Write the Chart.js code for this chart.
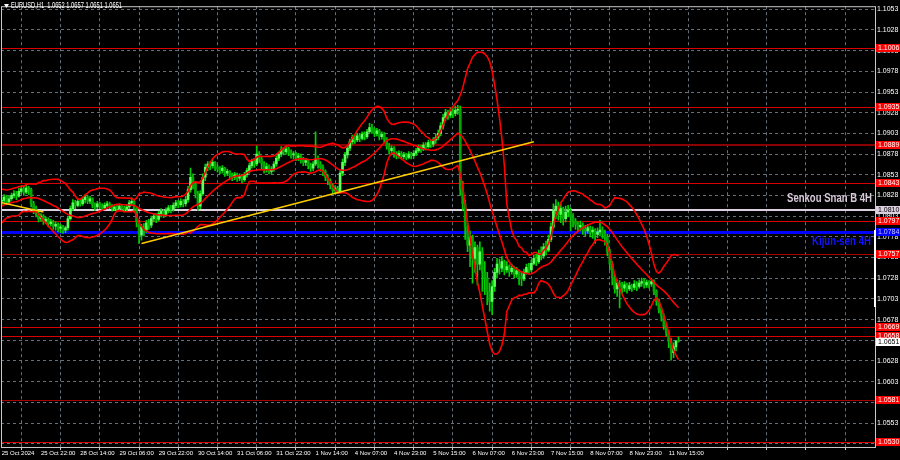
<!DOCTYPE html>
<html>
<head>
<meta charset="utf-8">
<script src="https://cdn.jsdelivr.net/npm/chart.js@4.4.1/dist/chart.umd.min.js"></script>
<style>
    html, body { margin: 0; padding: 0; background: #000; }
    canvas { display: block; }
</style>
</head>
<body>
<canvas id="myChart" width="900" height="460"></canvas>
<script>
const title = 'EURUSD,H1  1.0652 1.0657 1.0651 1.0651';

const timeLabels = [
    '25 Oct 2024', '25 Oct 22:00', '28 Oct 14:00', '29 Oct 06:00', '29 Oct 22:00',
    '30 Oct 14:00', '31 Oct 06:00', '31 Oct 22:00', '1 Nov 14:00', '4 Nov 07:00',
    '4 Nov 23:00', '5 Nov 15:00', '6 Nov 07:00', '6 Nov 23:00', '7 Nov 15:00',
    '8 Nov 07:00', '8 Nov 23:00', '11 Nov 15:00'
];

const priceTicks = [
    1.1053, 1.1028, 1.1003, 1.0978, 1.0953, 1.0928, 1.0903, 1.0878, 1.0853, 1.0828, 1.0803,
    1.0778, 1.0753, 1.0728, 1.0703, 1.0678, 1.0653, 1.0628, 1.0603, 1.0578, 1.0553, 1.0528
];

const redLevels = [1.1006, 1.0935, 1.0889, 1.0843, 1.0797, 1.0757, 1.0669, 1.0658, 1.0581, 1.0530];
const senkouSpanB = 1.0810;
const kijunSen = 1.0784;
const lastPrice = 1.0651;
const senkouText = 'Senkou Snan B 4H';
const kijunText = 'Kijun-sen 4H';

// closes before the first visible bar, only needed to start the bands
const priorCloses = [
    1.0795, 1.0800, 1.0812, 1.0805, 1.0818, 1.0822, 1.0810, 1.0801, 1.0813, 1.0826,
    1.0817, 1.0828, 1.0812, 1.0804, 1.0816, 1.0830, 1.0819, 1.0832, 1.0821
];

const closes = [
    1.0822, 1.0826, 1.0820, 1.0824, 1.0828, 1.0830, 1.0827, 1.0833, 1.0836, 1.0832,
    1.0837, 1.0835, 1.0818, 1.0812, 1.0806, 1.0800, 1.0803, 1.0797, 1.0799, 1.0794,
    1.0796, 1.0791, 1.0793, 1.0788, 1.0790, 1.0786, 1.0789, 1.0800, 1.0812, 1.0819,
    1.0816, 1.0821, 1.0818, 1.0823, 1.0826, 1.0821, 1.0824, 1.0817, 1.0814, 1.0818,
    1.0815, 1.0813, 1.0816, 1.0818, 1.0815, 1.0812, 1.0814, 1.0812, 1.0815, 1.0813,
    1.0811, 1.0814, 1.0819, 1.0821, 1.0812, 1.0796, 1.0780, 1.0790, 1.0786, 1.0795,
    1.0792, 1.0800, 1.0803, 1.0799, 1.0806, 1.0809, 1.0805, 1.0810, 1.0813, 1.0811,
    1.0816, 1.0819, 1.0817, 1.0821, 1.0818, 1.0823, 1.0835, 1.0850, 1.0842, 1.0830,
    1.0815, 1.0830, 1.0850, 1.0862, 1.0866, 1.0864, 1.0868, 1.0862, 1.0860, 1.0858,
    1.0861, 1.0855, 1.0857, 1.0852, 1.0850, 1.0853, 1.0849, 1.0851, 1.0847, 1.0853,
    1.0858, 1.0864, 1.0869, 1.0866, 1.0878, 1.0872, 1.0866, 1.0860, 1.0863, 1.0857,
    1.0860, 1.0866, 1.0873, 1.0878, 1.0883, 1.0881, 1.0884, 1.0880, 1.0877, 1.0878,
    1.0874, 1.0876, 1.0871, 1.0868, 1.0870, 1.0864, 1.0861, 1.0866, 1.0872, 1.0866,
    1.0862, 1.0857, 1.0850, 1.0846, 1.0840, 1.0834, 1.0837, 1.0833, 1.0855, 1.0868,
    1.0877, 1.0885, 1.0893, 1.0898, 1.0895, 1.0900, 1.0897, 1.0902, 1.0899, 1.0905,
    1.0910, 1.0908, 1.0903, 1.0906, 1.0899, 1.0902, 1.0896, 1.0888, 1.0882, 1.0885,
    1.0878, 1.0876, 1.0879, 1.0875, 1.0877, 1.0874, 1.0878, 1.0876, 1.0879, 1.0882,
    1.0886, 1.0884, 1.0889, 1.0887, 1.0892, 1.0890, 1.0895, 1.0898, 1.0903, 1.0912,
    1.0922, 1.0928, 1.0925, 1.0930, 1.0927, 1.0931, 1.0932, 1.0835, 1.0818, 1.0790,
    1.0768, 1.0778, 1.0752, 1.0765, 1.0745, 1.0760, 1.0735, 1.0728, 1.0712, 1.0700,
    1.0718, 1.0735, 1.0745, 1.0740, 1.0748, 1.0738, 1.0742, 1.0736, 1.0740, 1.0733,
    1.0737, 1.0730, 1.0727, 1.0735, 1.0741, 1.0738, 1.0746, 1.0752, 1.0748, 1.0758,
    1.0755, 1.0766, 1.0762, 1.0775, 1.0790, 1.0810, 1.0815, 1.0805, 1.0812, 1.0800,
    1.0808, 1.0810, 1.0802, 1.0797, 1.0793, 1.0790, 1.0792, 1.0787, 1.0785, 1.0789,
    1.0784, 1.0786, 1.0781, 1.0784, 1.0786, 1.0782, 1.0778, 1.0760, 1.0745, 1.0728,
    1.0715, 1.0722, 1.0718, 1.0716, 1.0720, 1.0715, 1.0719, 1.0717, 1.0721, 1.0718,
    1.0722, 1.0724, 1.0720, 1.0723, 1.0721, 1.0724, 1.0712, 1.0700, 1.0690, 1.0682,
    1.0670, 1.0662, 1.0652, 1.0638, 1.0645, 1.0652, 1.0651
];

const highs = [
    1.0826, 1.0829, 1.0828, 1.0827, 1.0831, 1.0834, 1.0833, 1.0837, 1.0840, 1.0839,
    1.0841, 1.0839, 1.0837, 1.0821, 1.0815, 1.0809, 1.0806, 1.0805, 1.0802, 1.0801,
    1.0799, 1.0798, 1.0796, 1.0795, 1.0793, 1.0792, 1.0791, 1.0803, 1.0815, 1.0823,
    1.0822, 1.0824, 1.0823, 1.0826, 1.0829, 1.0828, 1.0827, 1.0825, 1.0819, 1.0821,
    1.0820, 1.0818, 1.0819, 1.0821, 1.0820, 1.0817, 1.0817, 1.0816, 1.0818, 1.0817,
    1.0815, 1.0817, 1.0822, 1.0825, 1.0823, 1.0814, 1.0798, 1.0793, 1.0794, 1.0798,
    1.0799, 1.0803, 1.0806, 1.0806, 1.0809, 1.0812, 1.0811, 1.0813, 1.0816, 1.0816,
    1.0819, 1.0822, 1.0822, 1.0824, 1.0823, 1.0827, 1.0839, 1.0861, 1.0854, 1.0845,
    1.0833, 1.0834, 1.0854, 1.0866, 1.0869, 1.0869, 1.0871, 1.0869, 1.0865, 1.0863,
    1.0864, 1.0862, 1.0860, 1.0858, 1.0855, 1.0856, 1.0855, 1.0854, 1.0853, 1.0856,
    1.0861, 1.0867, 1.0872, 1.0873, 1.0888, 1.0881, 1.0875, 1.0869, 1.0867, 1.0865,
    1.0863, 1.0869, 1.0876, 1.0881, 1.0887, 1.0886, 1.0888, 1.0886, 1.0883, 1.0881,
    1.0880, 1.0879, 1.0878, 1.0874, 1.0873, 1.0872, 1.0867, 1.0869, 1.0905, 1.0876,
    1.0869, 1.0865, 1.0859, 1.0853, 1.0848, 1.0842, 1.0840, 1.0839, 1.0858, 1.0872,
    1.0880, 1.0888, 1.0896, 1.0901, 1.0901, 1.0903, 1.0903, 1.0905, 1.0905, 1.0908,
    1.0915, 1.0914, 1.0910, 1.0909, 1.0908, 1.0905, 1.0904, 1.0898, 1.0891, 1.0888,
    1.0887, 1.0881, 1.0882, 1.0881, 1.0880, 1.0879, 1.0881, 1.0880, 1.0882, 1.0885,
    1.0889, 1.0889, 1.0892, 1.0892, 1.0895, 1.0895, 1.0898, 1.0902, 1.0907, 1.0916,
    1.0926, 1.0932, 1.0931, 1.0934, 1.0933, 1.0936, 1.0937, 1.0936, 1.0845, 1.0822,
    1.0795, 1.0785, 1.0780, 1.0772, 1.0768, 1.0772, 1.0765, 1.0748, 1.0735, 1.0722,
    1.0725, 1.0740, 1.0752, 1.0751, 1.0754, 1.0750, 1.0748, 1.0744, 1.0745, 1.0742,
    1.0741, 1.0738, 1.0736, 1.0739, 1.0745, 1.0746, 1.0750, 1.0756, 1.0757, 1.0762,
    1.0766, 1.0770, 1.0773, 1.0780, 1.0795, 1.0818, 1.0823, 1.0820, 1.0818, 1.0814,
    1.0815, 1.0816, 1.0813, 1.0806, 1.0800, 1.0796, 1.0797, 1.0795, 1.0792, 1.0793,
    1.0791, 1.0790, 1.0788, 1.0789, 1.0798, 1.0790, 1.0786, 1.0781, 1.0763, 1.0748,
    1.0732, 1.0726, 1.0725, 1.0723, 1.0724, 1.0722, 1.0723, 1.0721, 1.0725, 1.0724,
    1.0726, 1.0728, 1.0727, 1.0726, 1.0725, 1.0727, 1.0726, 1.0714, 1.0703, 1.0693,
    1.0685, 1.0673, 1.0665, 1.0655, 1.0650, 1.0653, 1.0657
];

const lows = [
    1.0817, 1.0820, 1.0817, 1.0818, 1.0822, 1.0825, 1.0823, 1.0826, 1.0830, 1.0828,
    1.0830, 1.0829, 1.0814, 1.0806, 1.0802, 1.0796, 1.0797, 1.0793, 1.0794, 1.0790,
    1.0791, 1.0787, 1.0786, 1.0784, 1.0783, 1.0782, 1.0783, 1.0786, 1.0798, 1.0810,
    1.0812, 1.0814, 1.0815, 1.0816, 1.0819, 1.0818, 1.0818, 1.0813, 1.0810, 1.0812,
    1.0812, 1.0810, 1.0811, 1.0814, 1.0812, 1.0809, 1.0810, 1.0809, 1.0810, 1.0810,
    1.0808, 1.0809, 1.0812, 1.0816, 1.0808, 1.0790, 1.0770, 1.0774, 1.0779, 1.0783,
    1.0787, 1.0789, 1.0796, 1.0795, 1.0797, 1.0802, 1.0801, 1.0803, 1.0807, 1.0807,
    1.0809, 1.0813, 1.0813, 1.0814, 1.0814, 1.0815, 1.0820, 1.0832, 1.0836, 1.0825,
    1.0810, 1.0812, 1.0828, 1.0846, 1.0858, 1.0859, 1.0861, 1.0858, 1.0856, 1.0854,
    1.0855, 1.0851, 1.0852, 1.0849, 1.0846, 1.0847, 1.0845, 1.0846, 1.0843, 1.0845,
    1.0850, 1.0855, 1.0861, 1.0862, 1.0864, 1.0868, 1.0860, 1.0855, 1.0856, 1.0854,
    1.0854, 1.0857, 1.0863, 1.0870, 1.0875, 1.0877, 1.0878, 1.0876, 1.0873, 1.0872,
    1.0870, 1.0870, 1.0867, 1.0864, 1.0864, 1.0860, 1.0857, 1.0858, 1.0864, 1.0861,
    1.0857, 1.0852, 1.0846, 1.0841, 1.0836, 1.0830, 1.0831, 1.0830, 1.0831, 1.0852,
    1.0864, 1.0873, 1.0882, 1.0890, 1.0891, 1.0893, 1.0893, 1.0895, 1.0895, 1.0897,
    1.0903, 1.0903, 1.0899, 1.0900, 1.0895, 1.0896, 1.0892, 1.0884, 1.0878, 1.0879,
    1.0874, 1.0872, 1.0873, 1.0872, 1.0872, 1.0871, 1.0872, 1.0872, 1.0873, 1.0876,
    1.0880, 1.0880, 1.0882, 1.0883, 1.0885, 1.0886, 1.0887, 1.0891, 1.0895, 1.0900,
    1.0908, 1.0918, 1.0920, 1.0922, 1.0922, 1.0924, 1.0926, 1.0828, 1.0810, 1.0775,
    1.0760, 1.0742, 1.0722, 1.0735, 1.0720, 1.0738, 1.0712, 1.0708, 1.0696, 1.0688,
    1.0684, 1.0712, 1.0728, 1.0733, 1.0736, 1.0732, 1.0735, 1.0730, 1.0733, 1.0728,
    1.0729, 1.0720, 1.0719, 1.0725, 1.0733, 1.0734, 1.0736, 1.0744, 1.0743, 1.0746,
    1.0750, 1.0752, 1.0756, 1.0760, 1.0772, 1.0788, 1.0800, 1.0798, 1.0795, 1.0792,
    1.0796, 1.0802, 1.0785, 1.0790, 1.0787, 1.0784, 1.0785, 1.0781, 1.0779, 1.0782,
    1.0778, 1.0776, 1.0770, 1.0777, 1.0779, 1.0776, 1.0768, 1.0755, 1.0738, 1.0720,
    1.0710, 1.0706, 1.0692, 1.0710, 1.0712, 1.0710, 1.0713, 1.0712, 1.0714, 1.0713,
    1.0716, 1.0718, 1.0716, 1.0717, 1.0716, 1.0718, 1.0708, 1.0695, 1.0686, 1.0676,
    1.0666, 1.0658, 1.0644, 1.0629, 1.0632, 1.0640, 1.0651
];

// trend lines, anchors given as [bar index, price]
const trendLines = [
    [[-1, 1.0820], [17, 1.0808]],
    [[57, 1.0770], [217, 1.0893]]
];

const axisFont = '"Liberation Sans", Arial, sans-serif';

class Main {
    constructor() {
        this.barsPerLabel = 16;
        this.createChart();
    }

    candleData() {
        const wicks = [], bodies = [], colors = [];
        closes.forEach((c, i) => {
            const o = i === 0 ? priorCloses[priorCloses.length - 1] : closes[i - 1];
            const hi = Math.max(highs[i], o, c);
            const lo = Math.min(lows[i], o, c);
            wicks.push({ x: i, y: [lo, hi] });
            bodies.push({ x: i, y: [Math.min(o, c), Math.max(o, c)] });
            colors.push(c >= o ? '#5cff5c' : '#00a800');
        });
        return { wicks, bodies, colors };
    }

    // Bollinger bands 20, 2 on the hourly closes
    bands(period, mult) {
        const all = priorCloses.concat(closes);
        const up = [], mid = [], low = [];
        closes.forEach((c, i) => {
            const end = i + priorCloses.length;
            const win = all.slice(end - period + 1, end + 1);
            const m = win.reduce((a, b) => a + b, 0) / win.length;
            const sd = Math.sqrt(win.reduce((a, b) => a + (b - m) * (b - m), 0) / win.length);
            up.push({ x: i, y: m + mult * sd });
            mid.push({ x: i, y: m });
            low.push({ x: i, y: m - mult * sd });
        });
        return { up, mid, low };
    }

    createChart() {
        const ctx = document.getElementById('myChart').getContext('2d');
        const candles = this.candleData();
        const bb = this.bands(20, 2);
        const step = this.barsPerLabel;

        const xTicks = [];
        for (let v = 0; v <= 356; v += step) xTicks.push(v);

        const bandLine = (data) => ({
            type: 'line',
            data: data,
            borderColor: '#ff0000',
            borderWidth: 1.6,
            pointRadius: 0,
            tension: 0,
            order: 1
        });

        const datasets = [
            {
                type: 'bar',
                data: candles.wicks,
                backgroundColor: '#00d000',
                barThickness: 1,
                grouped: false,
                order: 3
            },
            {
                type: 'bar',
                data: candles.bodies,
                backgroundColor: candles.colors,
                barThickness: 2,
                minBarLength: 1,
                grouped: false,
                order: 2
            },
            bandLine(bb.up),
            bandLine(bb.mid),
            bandLine(bb.low)
        ];
        trendLines.forEach(t => {
            datasets.push({
                type: 'line',
                data: t.map(p => ({ x: p[0], y: p[1] })),
                borderColor: '#ffcc00',
                borderWidth: 1.6,
                pointRadius: 0,
                order: 0
            });
        });

        const levelsPlugin = {
            id: 'levels',
            beforeDatasetsDraw(chart) {
                const { ctx, chartArea: a, scales: { y } } = chart;
                const line = (v, color, width) => {
                    const py = Math.round(y.getPixelForValue(v)) + (width % 2 ? 0.5 : 0);
                    ctx.strokeStyle = color;
                    ctx.lineWidth = width;
                    ctx.beginPath();
                    ctx.moveTo(a.left, py);
                    ctx.lineTo(a.right, py);
                    ctx.stroke();
                };
                ctx.save();
                redLevels.forEach(v => {
                    if (v === 1.0889) line(v, '#8b0000', 2);
                    else if (v === 1.0757 || v === 1.0581) line(v, '#a80000', 1);
                    else line(v, '#d80000', 1);
                });
                line(senkouSpanB, '#dccfe0', 2);
                line(kijunSen, '#0000ff', 3);
                ctx.restore();
            }
        };

        const fitText = (c, text, x, y, width, font, color, align) => {
            c.save();
            c.font = font;
            const w = c.measureText(text).width;
            c.translate(x, y);
            c.scale(width / w, 1);
            c.fillStyle = color;
            c.textBaseline = 'middle';
            c.textAlign = align;
            c.fillText(text, 0, 0);
            c.restore();
        };

        const overlayPlugin = {
            id: 'overlay',
            beforeDraw(chart) {
                const c = chart.ctx;
                c.save();
                c.fillStyle = '#000';
                c.fillRect(0, 0, chart.width, chart.height);
                c.restore();
            },
            afterDatasetsDraw(chart) {
                const c = chart.ctx;
                fitText(c, senkouText, 872, 198, 85, 'bold 13px "Liberation Sans"', '#d8c9da', 'right');
                fitText(c, kijunText, 871, 241, 59, 'bold 13px "Liberation Sans"', '#1414ff', 'right');
            },
            afterDraw(chart) {
                const { ctx: c, chartArea: a, scales: { y } } = chart;
                c.save();
                // frame
                c.strokeStyle = '#c8c8c8';
                c.lineWidth = 1;
                c.strokeRect(a.left + 0.5, a.top + 0.5, a.right - a.left, a.bottom - a.top);
                c.fillStyle = '#ffffff';
                c.fillRect(a.right - 1, 230, 2, 77);

                // price boxes on the axis
                const box = (v, bg, fg) => {
                    const py = Math.round(y.getPixelForValue(v));
                    c.fillStyle = bg;
                    c.fillRect(a.right + 1, py - 4, chart.width - a.right - 1, 8);
                    c.fillStyle = fg;
                    c.font = '7px ' + axisFont;
                    c.textBaseline = 'middle';
                    c.textAlign = 'left';
                    c.fillText(v.toFixed(4), a.right + 3, py + 0.5);
                };
                redLevels.forEach(v => box(v, '#ff0000', '#ffffff'));
                box(senkouSpanB, '#dccfe0', '#000000');
                box(kijunSen, '#0000ff', '#c8c8ff');
                box(lastPrice, '#ffffff', '#000000');

                // symbol title
                c.fillStyle = '#ffffff';
                c.beginPath();
                c.moveTo(4, 4);
                c.lineTo(9, 4);
                c.lineTo(6.5, 8);
                c.closePath();
                c.fill();
                fitText(c, title, 11, 6, 111, '9px "Liberation Sans"', '#ffffff', 'left');
                c.restore();
            }
        };

        new Chart(ctx, {
            type: 'bar',
            data: { datasets: datasets },
            options: {
                responsive: false,
                animation: false,
                events: [],
                layout: { padding: { left: 1, top: 1, right: 0, bottom: 0 } },
                plugins: {
                    legend: { display: false },
                    tooltip: { enabled: false }
                },
                scales: {
                    x: {
                        type: 'linear',
                        min: -0.3,
                        max: 356.15,
                        offset: false,
                        afterBuildTicks: (s) => { s.ticks = xTicks.map(v => ({ value: v })); },
                        afterFit: (s) => { s.height = 13; },
                        ticks: {
                            autoSkip: false,
                            maxRotation: 0,
                            align: 'start',
                            padding: 0,
                            color: '#ffffff',
                            font: { family: axisFont, size: 6 },
                            callback: (v) => timeLabels[v / step] || ''
                        },
                        grid: {
                            color: '#66707a',
                            drawTicks: true,
                            tickLength: 3,
                            tickColor: '#c8c8c8'
                        },
                        border: { display: false, dash: [3, 3] }
                    },
                    y: {
                        position: 'right',
                        min: 1.0524,
                        max: 1.10567,
                        afterBuildTicks: (s) => { s.ticks = priceTicks.map(v => ({ value: v })); },
                        afterFit: (s) => { s.width = 25; },
                        ticks: {
                            autoSkip: false,
                            padding: 2,
                            color: '#ffffff',
                            font: { family: axisFont, size: 7 },
                            callback: (v) => v.toFixed(4)
                        },
                        grid: {
                            color: '#66707a',
                            drawTicks: false
                        },
                        border: { display: false, dash: [3, 3] }
                    }
                }
            },
            plugins: [levelsPlugin, overlayPlugin]
        });
    }
}

new Main();
</script>
</body>
</html>
